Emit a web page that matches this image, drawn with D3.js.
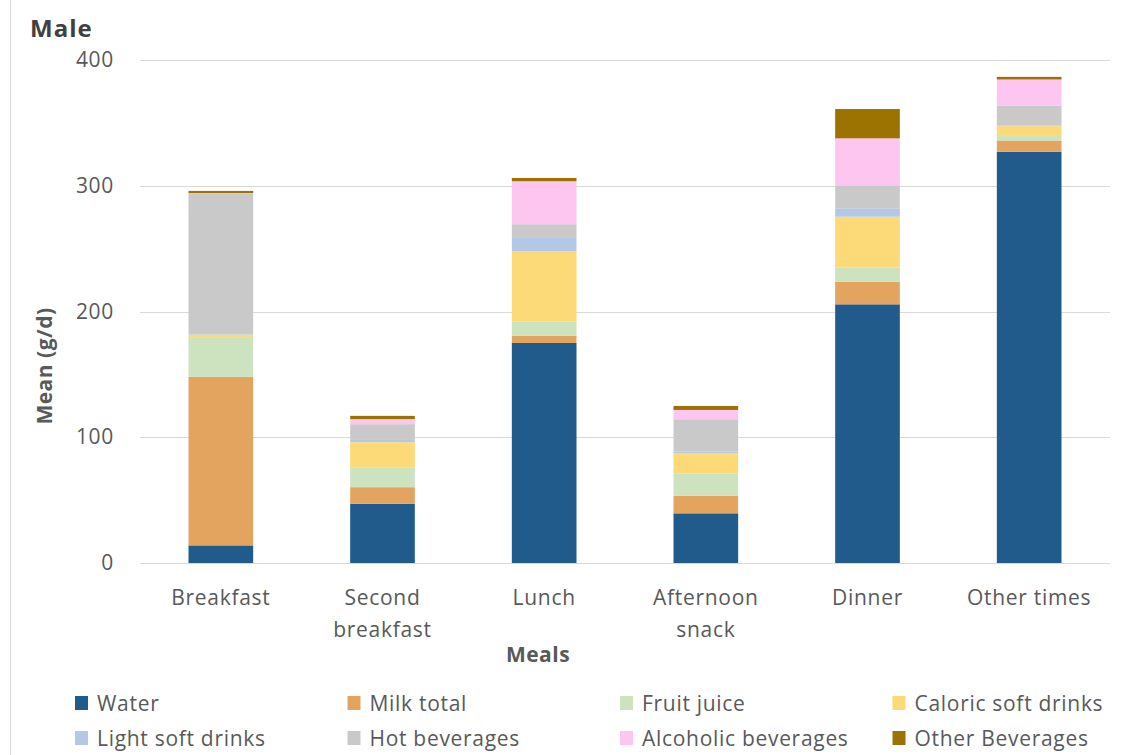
<!DOCTYPE html>
<html><head><meta charset="utf-8">
<script src="https://cdn.jsdelivr.net/npm/d3@7"></script>
<style>body{margin:0;background:#fff;} text{font-family:"Open Sans",sans-serif;}</style>
</head><body>
<svg id="c" width="1131" height="755"></svg>
<script>
const categories = ["Breakfast", "Second breakfast", "Lunch", "Afternoon snack", "Dinner", "Other times"];
const categoryLines = [["Breakfast"], ["Second", "breakfast"], ["Lunch"], ["Afternoon", "snack"], ["Dinner"], ["Other times"]];
const seriesNames = ["Water", "Milk total", "Fruit juice", "Caloric soft drinks", "Light soft drinks", "Hot beverages", "Alcoholic beverages", "Other Beverages"];
const water = [14, 47, 175, 39.5, 205.7, 327];
const milk = [134, 13.3, 5.6, 14, 18, 9];
const fruitJuice = [31, 15.9, 11.6, 17.5, 11.4, 4.3];
const caloricSoft = [2.4, 19.9, 55.7, 16.2, 40.3, 7.1];
const lightSoft = [0.2, 2.4, 10.6, 1.3, 6.6, 0.5];
const hotBev = [112, 11.9, 10.9, 25.8, 17.8, 15.9];
const alcoholic = [0.5, 4, 34.2, 7.4, 37.9, 20.7];
const otherBev = [1.8, 2.6, 2.6, 3.2, 23.3, 2.1];
const yTicks = [0, 100, 200, 300, 400];
const colors = ["#215b8c", "#e3a45f", "#cde3bf", "#fdda78", "#b3c7e7", "#c9c9c9", "#fcc6f1", "#9c7300"];

const seriesValues = [water, milk, fruitJuice, caloricSoft, lightSoft, hotBev, alcoholic, otherBev];
const rows = categories.map((c, i) => {
  const r = {cat: c};
  seriesNames.forEach((s, j) => r[s] = seriesValues[j][i]);
  return r;
});
const stacked = d3.stack().keys(seriesNames)(rows);

const svg = d3.select("#c");
const x0 = 140, x1 = 1110, yTop = 60, yBot = 563;
const x = d3.scaleBand().domain(categories).range([x0, x1]).paddingInner(0.6).paddingOuter(0.3);
const y = d3.scaleLinear().domain([0, 400]).range([yBot, yTop]);
const FS = 21, LS = "0.7px";

// left frame line
svg.append("line").attr("x1", 10.5).attr("x2", 10.5).attr("y1", 0).attr("y2", 755).attr("stroke", "#d9d9d9").attr("stroke-width", 1);

// gridlines
svg.append("g").selectAll("line").data(yTicks).join("line")
  .attr("x1", x0).attr("x2", x1)
  .attr("y1", d => Math.round(y(d)) + 0.5).attr("y2", d => Math.round(y(d)) + 0.5)
  .attr("stroke", "#d9d9d9").attr("stroke-width", 1.2);

// y axis labels
const yAxis = d3.axisLeft(y).tickValues(yTicks).tickSize(0).tickPadding(0);
const ya = svg.append("g").attr("transform", `translate(114,0)`).call(yAxis);
ya.select(".domain").remove();
ya.selectAll("text").attr("font-size", FS).attr("fill", "#595959").attr("font-family", "Open Sans").attr("letter-spacing", LS);

// bars
svg.append("g").selectAll("g").data(stacked).join("g")
  .attr("fill", (d, i) => colors[i])
  .selectAll("rect").data(d => d).join("rect")
  .attr("x", d => x(d.data.cat))
  .attr("width", x.bandwidth())
  .attr("y", d => y(d[1]))
  .attr("height", d => Math.max(0, y(d[0]) - y(d[1])));

// x labels
const xl = svg.append("g");
categories.forEach((c, i) => {
  const cx = x(c) + x.bandwidth() / 2;
  const t = xl.append("text").attr("x", cx).attr("y", 605)
    .attr("text-anchor", "middle").attr("font-size", FS).attr("fill", "#595959").attr("letter-spacing", LS);
  categoryLines[i].forEach((ln, k) => t.append("tspan").attr("x", cx).attr("dy", k === 0 ? 0 : 32).text(ln));
});

// titles
svg.append("text").attr("x", 30).attr("y", 37).attr("font-size", 24).attr("font-weight", "bold").attr("fill", "#404040").attr("letter-spacing", "1px").text("Male");
svg.append("text").attr("x", 538).attr("y", 662).attr("text-anchor", "middle").attr("font-size", 21).attr("font-weight", "bold").attr("fill", "#595959").attr("letter-spacing", "0.5px").text("Meals");
svg.append("text").attr("transform", `translate(52,366) rotate(-90)`).attr("text-anchor", "middle")
  .attr("font-size", 21).attr("font-weight", "bold").attr("fill", "#595959").attr("letter-spacing", "0.5px").text("Mean (g/d)");

// legend
const lg = svg.append("g");
seriesNames.forEach((s, i) => {
  const col = i % 4, row = Math.floor(i / 4);
  const lx = 75 + col * 272.5, ly = 704 + row * 35;
  lg.append("rect").attr("x", lx).attr("y", ly - 8).attr("width", 13).attr("height", 14).attr("fill", colors[i]);
  lg.append("text").attr("x", lx + 22).attr("y", ly + 7).attr("font-size", FS).attr("fill", "#595959").attr("letter-spacing", LS).text(s);
});
</script>
</body></html>
